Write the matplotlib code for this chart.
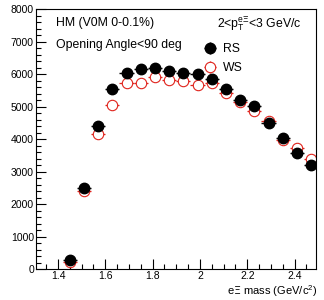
import numpy as np
import matplotlib
matplotlib.use("Agg")
import matplotlib.pyplot as plt
from matplotlib.ticker import MultipleLocator

plt.rcParams['font.family'] = ['Liberation Sans', 'DejaVu Sans']

# bin centres (GeV/c^2), bin width 0.06
mass = [1.45, 1.51, 1.57, 1.63, 1.69, 1.75, 1.81, 1.87, 1.93,
        1.99, 2.05, 2.11, 2.17, 2.23, 2.29, 2.35, 2.41, 2.47]
rs = [280, 2490, 4410, 5540, 6030, 6160, 6200, 6100, 6030,
      6010, 5860, 5540, 5190, 5020, 4510, 4050, 3570, 3210]
ws = [230, 2400, 4160, 5050, 5740, 5720, 5920, 5820, 5780,
      5650, 5720, 5430, 5150, 4870, 4570, 3980, 3740, 3380]
half_bin = 0.03

fig = plt.figure(figsize=(3.24, 3.0), dpi=100)
ax = fig.add_axes([0.111, 0.102, 0.864, 0.868])

ax.errorbar(mass, ws, xerr=half_bin, yerr=np.sqrt(ws), fmt='o', ms=7.5,
            mfc='white', mec='#e0231c', mew=0.8, ecolor='#e0231c',
            elinewidth=0.9, capsize=0, label='WS', zorder=2)
ax.errorbar(mass, rs, xerr=half_bin, yerr=np.sqrt(rs), fmt='o', ms=7.5,
            mfc='black', mec='black', ecolor='black',
            elinewidth=1.0, capsize=0, label='RS', zorder=3)

ax.set_xlim(1.307, 2.49)
ax.set_ylim(0, 8000)
ax.xaxis.set_major_locator(MultipleLocator(0.2))
ax.xaxis.set_minor_locator(MultipleLocator(0.05))
ax.yaxis.set_major_locator(MultipleLocator(1000))
ax.yaxis.set_minor_locator(MultipleLocator(200))
ax.set_xticks([1.4, 1.6, 1.8, 2.0, 2.2, 2.4])
ax.set_xticklabels(['1.4', '1.6', '1.8', '2', '2.2', '2.4'])
ax.tick_params(which='both', direction='in', top=False, right=False,
               labelsize=7.5, width=0.8, pad=1.5)
ax.tick_params(which='major', length=7)
ax.tick_params(which='minor', length=3.5)
for s in ax.spines.values():
    s.set_linewidth(0.8)

fig.text(0.978, 0.03, r'e$\Xi$ mass (GeV/c$^\mathregular{2}$)', fontsize=8,
         ha='right', va='center')

ax.text(0.07, 0.945, 'HM (V0M 0-0.1%)', transform=ax.transAxes,
        fontsize=8.8, va='center')
ax.text(0.07, 0.86, 'Opening Angle<90 deg', transform=ax.transAxes,
        fontsize=8.8, va='center')
ax.text(0.645, 0.945, r'2<p$_\mathregular{T}^{\mathregular{e\Xi}}$<3 GeV/c',
        transform=ax.transAxes, fontsize=8.8, va='center')

h, l = ax.get_legend_handles_labels()
ax.legend(h[::-1], l[::-1], loc='upper left', bbox_to_anchor=(0.555, 0.91),
          frameon=False, fontsize=8.8, handletextpad=0.4, labelspacing=0.55,
          handlelength=1.3)

fig.savefig('out.png', dpi=100)
